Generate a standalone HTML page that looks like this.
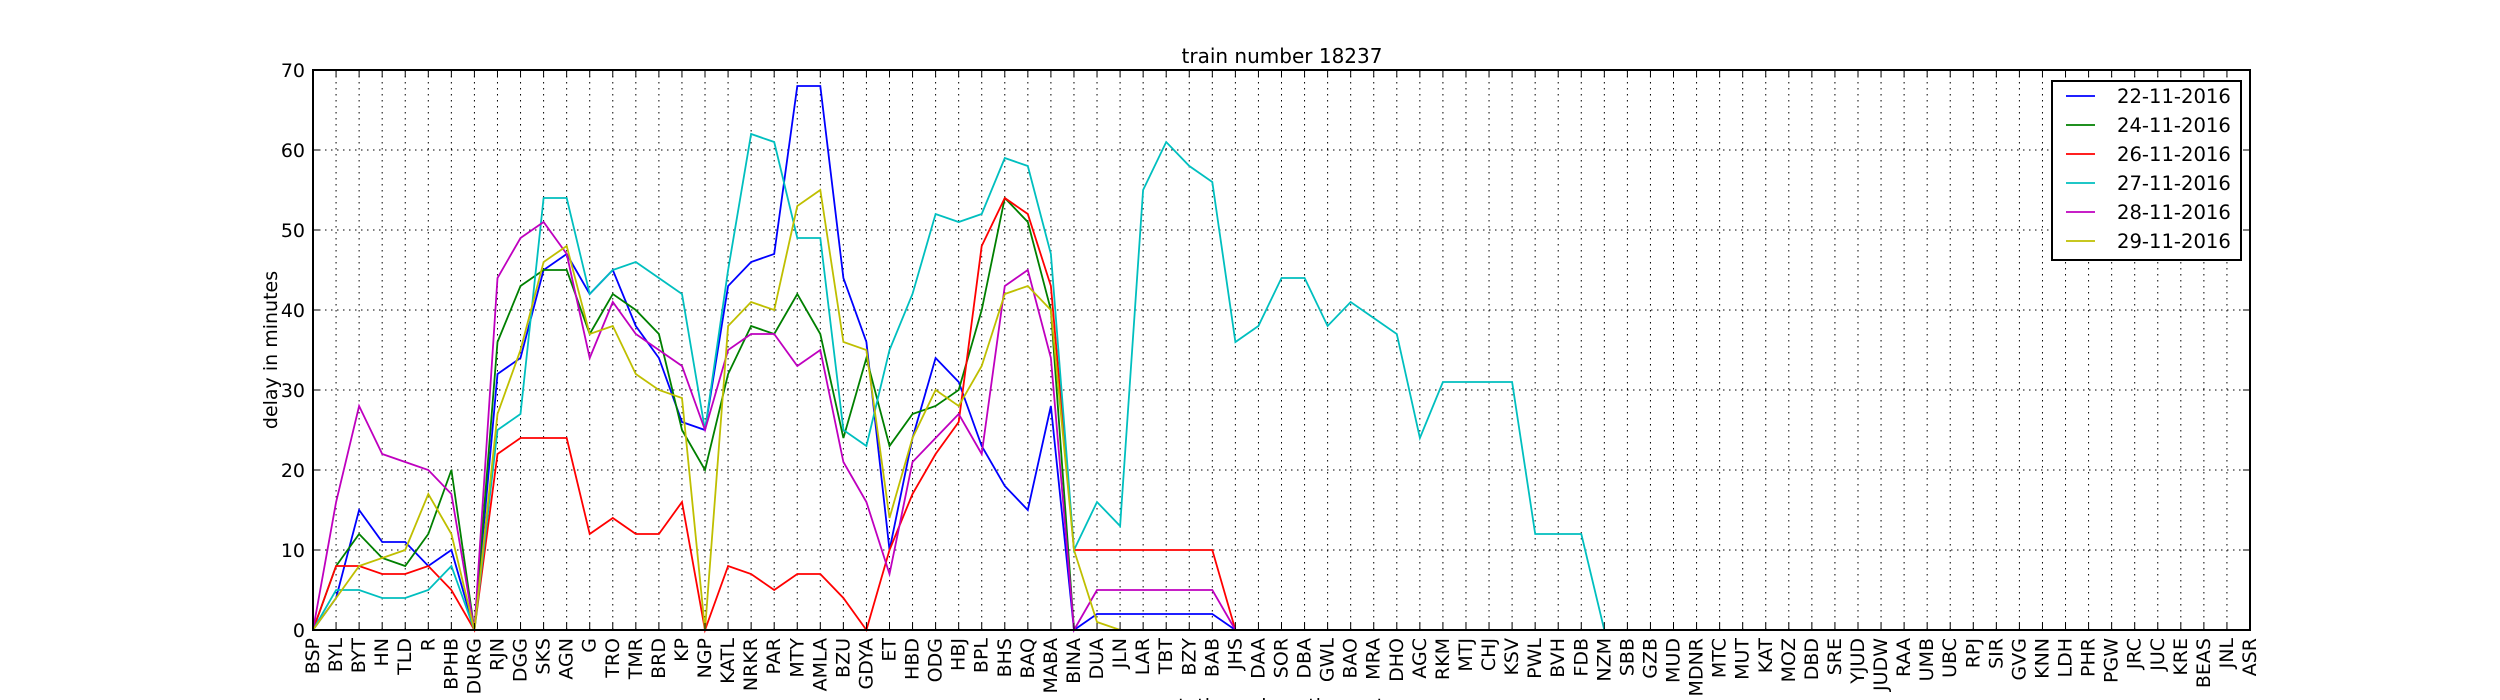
<!DOCTYPE html>
<html><head><meta charset="utf-8"><style>
html,body{margin:0;padding:0;background:#fff;}
svg{display:block;font-family:"DejaVu Sans","Liberation Sans",sans-serif;}
</style></head><body>
<svg id="chart" width="2500" height="700" viewBox="0 0 2500 700" xmlns="http://www.w3.org/2000/svg">
<rect x="0" y="0" width="2500" height="700" fill="#fff"/>
<text x="1282" y="63" font-size="20" text-anchor="middle">train number 18237</text>
<text x="0" y="0" font-size="19" text-anchor="middle" transform="translate(277,350) rotate(-90)">delay in minutes</text>
<text x="1282" y="712" font-size="19" text-anchor="middle">stations along the route</text>
<g id="grid"></g><g id="series"></g><g id="axes"></g><g id="legend"></g>
</svg>
<script>
const stations = ["BSP","BYL","BYT","HN","TLD","R","BPHB","DURG","RJN","DGG","SKS","AGN","G","TRO","TMR","BRD","KP","NGP","KATL","NRKR","PAR","MTY","AMLA","BZU","GDYA","ET","HBD","ODG","HBJ","BPL","BHS","BAQ","MABA","BINA","DUA","JLN","LAR","TBT","BZY","BAB","JHS","DAA","SOR","DBA","GWL","BAO","MRA","DHO","AGC","RKM","MTJ","CHJ","KSV","PWL","BVH","FDB","NZM","SBB","GZB","MUD","MDNR","MTC","MUT","KAT","MOZ","DBD","SRE","YJUD","JUDW","RAA","UMB","UBC","RPJ","SIR","GVG","KNN","LDH","PHR","PGW","JRC","JUC","KRE","BEAS","JNL","ASR"];
const seriesNames = ["22-11-2016","24-11-2016","26-11-2016","27-11-2016","28-11-2016","29-11-2016"];
const yTicks = [0,10,20,30,40,50,60,70];
const d22 = [0,4,15,11,11,8,10,0,32,34,45,47,42,45,38,34,26,25,43,46,47,68,68,44,36,10,24,34,31,23,18,15,28,0,2,2,2,2,2,2,0];
const d24 = [0,8,12,9,8,12,20,0,36,43,45,45,37,42,40,37,25,20,32,38,37,42,37,24,34,23,27,28,30,40,54,51,40,0,0,0,0,0,0,0,0];
const d26 = [0,8,8,7,7,8,5,0,22,24,24,24,12,14,12,12,16,0,8,7,5,7,7,4,0,10,17,22,26,48,54,52,43,10,10,10,10,10,10,10,0];
const d27 = [0,5,5,4,4,5,8,0,25,27,54,54,42,45,46,44,42,25,45,62,61,49,49,25,23,35,42,52,51,52,59,58,47,10,16,13,55,61,58,56,36,38,44,44,38,41,39,37,24,31,31,31,31,12,12,12,0];
const d28 = [0,16,28,22,21,20,17,0,44,49,51,47,34,41,37,35,33,25,35,37,37,33,35,21,16,7,21,24,27,22,43,45,34,0,5,5,5,5,5,5,0];
const d29 = [0,4,8,9,10,17,12,0,27,35,46,48,37,38,32,30,29,0,38,41,40,53,55,36,35,14,24,30,28,33,42,43,40,10,1,0,0,0,0,0,0];
const allSeries = [d22,d24,d26,d27,d28,d29];
const colors = ["#0000ff","#008000","#ff0000","#00bfbf","#bf00bf","#bfbf00"];

const L=313, R=2250, T=70, B=630, yMax=70;
const NS="http://www.w3.org/2000/svg";
function xPos(i){return L+(R-L)*i/(stations.length-1);}
function yPos(v){return B-(B-T)*v/yMax;}
function mk(tag,attrs,parent){const e=document.createElementNS(NS,tag);for(const k in attrs)e.setAttribute(k,attrs[k]);parent.appendChild(e);return e;}
const grid=document.getElementById('grid'),ser=document.getElementById('series'),ax=document.getElementById('axes'),leg=document.getElementById('legend');

stations.forEach((s,i)=>{
  const x=xPos(i);
  const g=mk('line',{x1:x,x2:x,y1:T,y2:B,stroke:'#000','stroke-width':1,'stroke-dasharray':'1.5,4.5'},grid);
  
  
  const t1=mk('line',{x1:x,x2:x,y1:B,y2:B-7,stroke:'#000','stroke-width':1},ax);
  
  
  const t2=mk('line',{x1:x,x2:x,y1:T,y2:T+7,stroke:'#000','stroke-width':1},ax);
  
  
  const lb=mk('text',{x:0,y:0,'font-size':19,'text-anchor':'end','dominant-baseline':'central',transform:`translate(${x},638) rotate(-90)`},ax);
  lb.textContent=s;
  
  
});
yTicks.forEach(v=>{
  const y=yPos(v);
  const g=mk('line',{x1:L,x2:R,y1:y,y2:y,stroke:'#000','stroke-width':1,'stroke-dasharray':'1.5,4.5'},grid);
  
  
  const t1=mk('line',{x1:L,x2:L+7,y1:y,y2:y,stroke:'#000'},ax);
  
  
  const t2=mk('line',{x1:R,x2:R-7,y1:y,y2:y,stroke:'#000'},ax);
  
  
  const lb=mk('text',{x:L-8,y:y+7,'font-size':19,'text-anchor':'end'},ax);
  lb.textContent=v;
  
  
});
allSeries.forEach((data,si)=>{
  const full=stations.map((s,i)=>i<data.length?data[i]:0);
  const pts=full.map((v,i)=>xPos(i).toFixed(1)+','+yPos(v).toFixed(1)).join(' ');
  const pl=mk('polyline',{points:pts,fill:'none',stroke:colors[si],'stroke-width':1.8,'stroke-linejoin':'miter'},ser);
  
  
});
const frame=mk('rect',{x:L,y:T,width:R-L,height:B-T,fill:'none',stroke:'#000','stroke-width':2},ax);


const box=mk('rect',{x:2052,y:81,width:189,height:179,fill:'#fff',stroke:'#000','stroke-width':2},leg);


seriesNames.forEach((n,i)=>{
  const y=96+i*29;
  const ln=mk('line',{x1:2066,x2:2095,y1:y,y2:y,stroke:colors[i],'stroke-width':1.8},leg);
  
  
  const t=mk('text',{x:2117,y:y+7,'font-size':19.6},leg);
  t.textContent=n;
  
  
});
</script>
</body></html>
